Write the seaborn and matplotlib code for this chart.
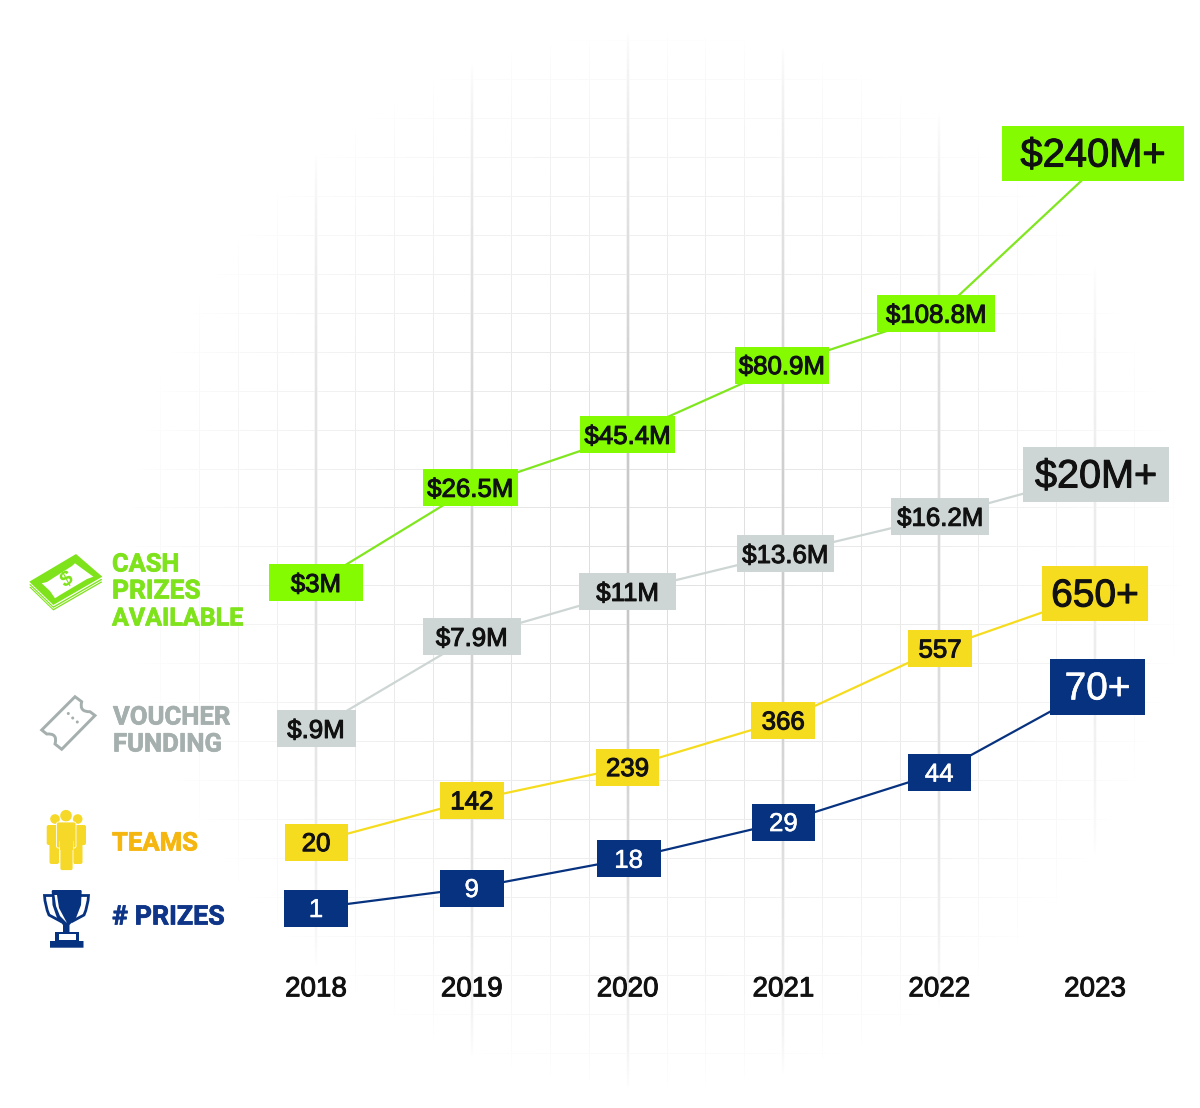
import matplotlib
matplotlib.use("Agg")
import numpy as np
import pandas as pd
import seaborn as sns
import matplotlib.pyplot as plt
import matplotlib.patheffects as pe
from matplotlib.patches import Rectangle, Polygon, Circle, FancyBboxPatch, PathPatch
from matplotlib.path import Path
from matplotlib.textpath import TextPath
from matplotlib.font_manager import FontProperties
from matplotlib.transforms import Affine2D

# ---- data ----
years = [2018, 2019, 2020, 2021, 2022, 2023]
cash_prizes = [3, 26.5, 45.4, 80.9, 108.8, 240]
voucher_funding = [0.9, 7.9, 11, 13.6, 16.2, 20]
teams = [20, 142, 239, 366, 557, 650]
prize_count = [1, 9, 18, 29, 44, 70]

cash_labels = ["$3M", "$26.5M", "$45.4M", "$80.9M", "$108.8M", "$240M+"]
voucher_labels = ["$.9M", "$7.9M", "$11M", "$13.6M", "$16.2M", "$20M+"]
team_labels = ["20", "142", "239", "366", "557", "650+"]
prize_labels = ["1", "9", "18", "29", "44", "70+"]

W, H = 1200, 1108
PLOT_BOTTOM = 968
sns.set_theme(style="white")
plt.rcParams["font.family"] = ["Liberation Sans", "DejaVu Sans"]

fig = plt.figure(figsize=(W / 100, H / 100), dpi=100, facecolor="white")


def faded_grid():
    """Square grid, with heavier lines on the years, dissolving away from the middle."""
    yy, xx = np.mgrid[0:H, 0:W]
    fade = np.clip(1 - np.hypot(xx - 655, yy - 560) / 530, 0, 1) ** 0.65
    ink = np.zeros((H, W))
    step = 155.8 / 4
    for x in np.arange(316 - 4 * step, W, step):
        ink[:, int(round(x))] = 0.14
    for y in np.arange(79 - step, H, step):
        ink[int(round(y)), :] = 0.12
    for k in range(6):
        x = int(round(316 + k * 155.8))
        ink[:, x - 2:x + 2] = np.maximum(ink[:, x - 2:x + 2], [[0.08, 0.24, 0.24, 0.08]])
    return 1 - ink * fade


grid_ax = fig.add_axes([0, 0, 1, 1], zorder=0)
grid_ax.imshow(faded_grid(), cmap="gray", vmin=0, vmax=1, extent=(0, W, H, 0),
               aspect="auto", interpolation="nearest")
grid_ax.axis("off")

rect = [0, 1 - PLOT_BOTTOM / H, 1, PLOT_BOTTOM / H]
x_per_year = 155.8
xlim = (2018 - 316 / x_per_year, 2018 + (W - 316) / x_per_year)


def series_axes(values, knots, tops, zorder):
    """Transparent axes with its own piecewise value scale; each series rises at its own rate."""
    knots = np.asarray(knots, float)
    tops = np.asarray(tops, float)
    lo_slope = (tops[1] - tops[0]) / (knots[1] - knots[0])
    hi_slope = (tops[-1] - tops[-2]) / (knots[-1] - knots[-2])
    lo_v, hi_v = knots[0] - 1e4, knots[-1] + 1e4
    kv = np.r_[lo_v, knots, hi_v]
    kt = np.r_[tops[0] - 1e4 * lo_slope, tops, tops[-1] + 1e4 * hi_slope]
    forward = lambda v: np.interp(v, kv, -kt)
    inverse = lambda t: np.interp(t, -kt, kv)
    ax = fig.add_axes(rect, zorder=zorder)
    ax.patch.set_alpha(0)
    ax.set_yscale("function", functions=(forward, inverse))
    return ax, inverse


SERIES = [
    dict(values=cash_prizes, labels=cash_labels, line="#80e61e", box="#84fb00", ink="#111111",
         knots=[0, 25, 50, 110, 250], tops=[595.4, 492, 422, 311.5, 157],
         widths=[94, 95, 95, 94, 118, 182], dx=[0, -1.5, 0, -1.5, -3, -2], last_dy=-15, last_h=55, last_fs=28.7),
    dict(values=voucher_funding, labels=voucher_labels, line="#cdd6d4", box="#cdd6d4", ink="#111111",
         knots=[0, 8, 16, 20], tops=[740.8, 635.6, 519, 474],
         widths=[79, 98, 97, 97, 98, 146], dx=[0, 0, 0, 2, 1, 1], last_dy=0, last_h=55, last_fs=28.5),
    dict(values=teams, labels=team_labels, line="#f6dc1e", box="#f6dc1e", ink="#111111",
         knots=[0, 250, 550, 650], tops=[849, 763.3, 652.6, 594],
         widths=[63, 64, 63, 64, 64, 106], dx=[0, 0, 0, 0, 1, 0], last_dy=0, last_h=55, last_fs=28),
    dict(values=prize_count, labels=prize_labels, line="#07327f", box="#07327f", ink="#ffffff",
         knots=[0, 10, 30, 70], tops=[910.5, 885.5, 818.7, 687],
         widths=[64, 64, 64, 63, 63, 95], dx=[0, 0, 1, 0, 0, 2.5], last_dy=0, last_h=56, last_fs=28),
]

top = fig.add_axes([0, 0, 1, 1], zorder=10)
top.set_xlim(0, W)
top.set_ylim(H, 0)
top.patch.set_alpha(0)
top.axis("off")

for i, s in enumerate(SERIES):
    ax, inverse = series_axes(s["values"], s["knots"], s["tops"], zorder=2 + i)
    frame = pd.DataFrame({"year": years, "value": s["values"]})
    sns.lineplot(data=frame, x="year", y="value", color=s["line"], linewidth=1.6, ax=ax)
    ax.set_xlim(*xlim)
    ax.set_ylim(inverse(-PLOT_BOTTOM), inverse(0))
    ax.set_xlabel("")
    ax.set_ylabel("")
    ax.set_yticks([])
    ax.grid(False)
    sns.despine(ax=ax, left=True, bottom=True)
    if i == 0:
        ax.set_xticks(years)
        ax.set_xticklabels([str(y) for y in years], fontsize=20, color="#111111",
                           path_effects=[pe.withStroke(linewidth=0.7, foreground="#111111")])
        ax.tick_params(axis="x", length=0, pad=6)
    else:
        ax.set_xticks([])

    # value boxes sit on the points of the line
    for j, (yr, val, lab) in enumerate(zip(years, s["values"], s["labels"])):
        px, py = top.transData.inverted().transform(ax.transData.transform((yr, val)))
        last = j == len(years) - 1
        bw = s["widths"][j]
        bh = s["last_h"] if last else 37
        cx = px + s["dx"][j]
        cy = py + (s["last_dy"] if last else 0)
        top.add_patch(Rectangle((cx - bw / 2, cy - bh / 2), bw, bh, facecolor=s["box"],
                                edgecolor="none", zorder=3))
        fs = s["last_fs"] if last else 18.6
        stroke = 0.4 if s["ink"] == "#ffffff" else 0.75
        top.text(cx, cy - (1.5 if last else 0.5), lab, ha="center", va="center_baseline", fontsize=fs,
                 color=s["ink"], zorder=4, path_effects=[pe.withStroke(linewidth=stroke, foreground=s["ink"])])

# ---- legend captions ----
LEGEND = [
    (112, [(562, "CASH", 18.3), (589, "PRIZES", 19.0), (616, "AVAILABLE", 18.0)], "#7fe31c"),
    (113, [(715, "VOUCHER", 18.5), (742, "FUNDING", 18.5)], "#a5b0ae"),
    (112, [(841, "TEAMS", 18.5)], "#f5b60f"),
    (112, [(914, "# PRIZES", 19.3)], "#0e3588"),
]
for x, rows, colour in LEGEND:
    for y, word, size in rows:
        top.text(x, y, word, family="Roboto", weight="bold", fontsize=size, color=colour,
                 ha="left", va="center_baseline", zorder=5,
                 path_effects=[pe.withStroke(linewidth=0.5, foreground=colour)])


# ---- legend icons ----
def money_icon(color="#7fe31c"):
    note = np.array([(29.3, 581.7), (76, 554), (102.3, 576.7), (53.3, 605)])
    for off, c in [(5.5, color), (4, "white"), (3, color), (1.4, "white")]:
        top.add_patch(Polygon(note + (0, off), closed=True, facecolor=c, edgecolor="none", zorder=5))
    top.add_patch(Polygon(note, closed=True, facecolor=color, edgecolor="none", zorder=5))
    window = [(41.7, 583.3), (47, 582), (72, 566), (75, 563.3), (93.3, 576.7), (87, 579),
              (60, 595), (55, 598.3), (50, 591)]
    top.add_patch(Polygon(window, closed=True, facecolor="white", edgecolor="none", zorder=5))
    glyph = TextPath((0, 0), "$", size=21, prop=FontProperties(family="Liberation Sans", weight="bold"))
    box = glyph.get_extents()
    place = (Affine2D().translate(-box.x0 - box.width / 2, -box.y0 - box.height / 2)
             .scale(1, -1).skew_deg(0, -8).rotate_deg(-28).translate(66, 578.5))
    top.add_patch(PathPatch(glyph.transformed(place), facecolor=color, edgecolor="none", zorder=6))


def ticket_icon(color="#a5b0ae"):
    verts = [(75, 696.7), (81.7, 701.7), (79, 712), (90, 711.7), (95, 715.5),
             (61.7, 749.3), (55, 744), (58, 733), (46.7, 734), (41.7, 730), (75, 696.7)]
    codes = [Path.MOVETO, Path.LINETO, Path.CURVE3, Path.CURVE3, Path.LINETO,
             Path.LINETO, Path.LINETO, Path.CURVE3, Path.CURVE3, Path.LINETO, Path.CLOSEPOLY]
    top.add_patch(PathPatch(Path(verts, codes), facecolor="white", edgecolor=color, lw=2.1,
                            joinstyle="miter", zorder=5))
    for cx, cy in [(68.3, 713.5), (72.7, 718), (77.3, 722)]:
        top.add_patch(Circle((cx, cy), 1.5, facecolor=color, edgecolor="none", zorder=6))


def people_icon(color="#f6d928"):
    for cx, cy, r in [(55, 819, 4.8), (77.7, 819, 4.8), (66, 815.7, 5.8)]:
        top.add_patch(Circle((cx, cy), r, facecolor=color, edgecolor="none", zorder=5))
    for x0, x1, y0, y1 in [(46.7, 58, 825, 845), (74.5, 86, 825, 845), (49.5, 59, 840, 864), (73, 82.5, 840, 864)]:
        top.add_patch(FancyBboxPatch((x0 + 2, y0 + 2), x1 - x0 - 4, y1 - y0 - 4, boxstyle="round,pad=2",
                                     facecolor=color, edgecolor="none", zorder=5))
    for x0, x1, y0, y1 in [(56.5, 76, 822, 848), (60, 73, 840, 870.5)]:
        top.add_patch(FancyBboxPatch((x0 + 2, y0 + 2), x1 - x0 - 4, y1 - y0 - 4, boxstyle="round,pad=2",
                                     facecolor=color, edgecolor="white", lw=0.6, zorder=6))
    top.add_patch(Rectangle((60.3, 836), 12.5, 14, facecolor=color, edgecolor="none", zorder=7))


def trophy_icon(color="#07327f"):
    handle_l = Path([(52, 895.5), (44.5, 895.5), (44.5, 895.5), (45, 906), (49, 915), (62, 922)],
                    [Path.MOVETO, Path.LINETO, Path.LINETO, Path.CURVE3, Path.CURVE3, Path.LINETO])
    handle_r = Path([(81, 895.5), (88.5, 895.5), (88.5, 895.5), (88, 906), (84, 915), (71, 922)],
                    [Path.MOVETO, Path.LINETO, Path.LINETO, Path.CURVE3, Path.CURVE3, Path.LINETO])
    for h in (handle_l, handle_r):
        top.add_patch(PathPatch(h, facecolor="none", edgecolor=color, lw=2, zorder=5))
    cup = [(51.7, 891), (52.5, 890), (81, 890), (81.7, 891), (81, 905), (76, 918), (69.5, 925),
           (69.5, 932), (79, 932), (79, 941), (83.5, 941), (83.5, 947.7), (50, 947.7), (50, 941),
           (55, 941), (55, 932), (63, 932), (63, 925), (57, 918), (52.5, 905)]
    top.add_patch(Polygon(cup, closed=True, facecolor=color, edgecolor="none", zorder=6))
    top.add_patch(Rectangle((58.5, 933.5), 17, 6.5, facecolor="white", edgecolor="none", zorder=7))
    streak = [(54.5, 895), (57, 895), (59, 908), (67, 923), (60, 916), (56, 906)]
    top.add_patch(Polygon(streak, closed=True, facecolor="white", edgecolor="none", zorder=7))


money_icon()
ticket_icon()
people_icon()
trophy_icon()

fig.savefig("out.png", dpi=100, facecolor="white")
